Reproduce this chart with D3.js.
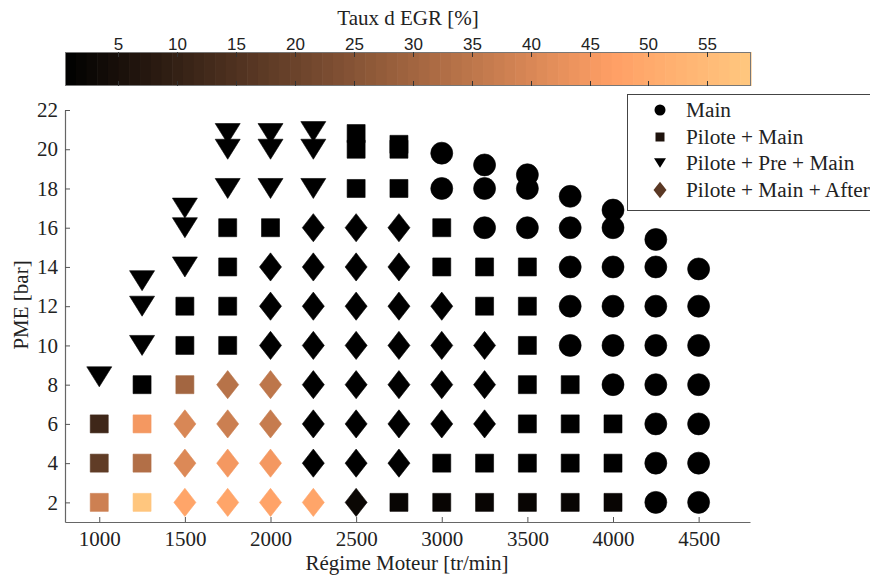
<!DOCTYPE html>
<html>
<head>
<meta charset="utf-8">
<script src="https://cdn.jsdelivr.net/npm/d3@7"></script>
<style>
  html, body { margin: 0; padding: 0; background: #fff; }
  svg { display: block; }
  .serif { font-family: "Liberation Serif", "Times New Roman", "DejaVu Serif", serif; }
  .narrow { font-family: "Liberation Sans Narrow", "Liberation Sans", Arial, sans-serif; }
</style>
</head>
<body>
<svg id="chart" width="870" height="577"></svg>
<script>
// Operating points: [engine speed (tr/min), PME (bar), EGR rate (%)]
const mainPoints = [
  [3000, 18, 0.5], [3000, 19.8, 0.5],
  [3250, 16, 0.5], [3250, 18, 0.5], [3250, 19.2, 0.5],
  [3500, 16, 0.5], [3500, 18, 0.5], [3500, 18.7, 0.5],
  [3750, 10, 0.5], [3750, 12, 0.5], [3750, 14, 0.5], [3750, 16, 0.5], [3750, 17.6, 0.5],
  [4000, 8, 0.5], [4000, 10, 0.5], [4000, 12, 0.5], [4000, 14, 0.5], [4000, 16, 0.5], [4000, 16.9, 0.5],
  [4250, 2, 0.5], [4250, 4, 0.5], [4250, 6, 0.5], [4250, 8, 0.5], [4250, 10, 0.5], [4250, 12, 0.5], [4250, 14, 0.5], [4250, 15.4, 0.5],
  [4500, 2, 0.5], [4500, 4, 0.5], [4500, 6, 0.5], [4500, 8, 0.5], [4500, 10, 0.5], [4500, 12, 0.5], [4500, 13.9, 0.5]
];

const pilotMainPoints = [
  [1000, 2, 38], [1000, 4, 18], [1000, 6, 12],
  [1250, 2, 58.4], [1250, 4, 33], [1250, 6, 45], [1250, 8, 0.5],
  [1500, 8, 30.3], [1500, 10, 0.5], [1500, 12, 0.5],
  [1750, 10, 0.5], [1750, 12, 0.5], [1750, 14, 0.5], [1750, 16, 0.5],
  [2000, 16, 0.5],
  [2500, 18, 0.5], [2500, 20, 0.5], [2500, 20.8, 0.5],
  [2750, 2, 2], [2750, 18, 0.5], [2750, 20, 0.5], [2750, 20.25, 0.5],
  [3000, 2, 2], [3000, 4, 0.5], [3000, 14, 0.5], [3000, 16, 0.5],
  [3250, 2, 2], [3250, 4, 0.5], [3250, 12, 0.5], [3250, 14, 0.5],
  [3500, 2, 2], [3500, 4, 0.5], [3500, 6, 0.5], [3500, 8, 0.5], [3500, 10, 0.5], [3500, 12, 0.5], [3500, 14, 0.5],
  [3750, 2, 2], [3750, 4, 0.5], [3750, 6, 0.5], [3750, 8, 0.5],
  [4000, 2, 2], [4000, 4, 0.5], [4000, 6, 0.5]
];

const pilotPreMainPoints = [
  [1000, 8.4, 0.5],
  [1250, 10, 0.5], [1250, 12, 0.5], [1250, 13.3, 0.5],
  [1500, 14, 0.5], [1500, 16, 0.5], [1500, 17.0, 0.5],
  [1750, 18, 0.5], [1750, 20, 0.5], [1750, 20.8, 0.5],
  [2000, 18, 0.5], [2000, 20, 0.5], [2000, 20.8, 0.5],
  [2250, 18, 0.5], [2250, 20, 0.5], [2250, 20.9, 0.5]
];

const pilotMainAfterPoints = [
  [1500, 2, 48.7], [1500, 4, 40.6], [1500, 6, 40],
  [1750, 2, 48.7], [1750, 4, 45], [1750, 6, 37.6], [1750, 8, 34],
  [2000, 2, 48], [2000, 4, 45], [2000, 6, 36.7], [2000, 8, 35], [2000, 10, 0.5], [2000, 12, 0.5], [2000, 14, 0.5],
  [2250, 2, 48.7], [2250, 4, 0.5], [2250, 6, 0.5], [2250, 8, 0.5], [2250, 10, 0.5], [2250, 12, 0.5], [2250, 14, 0.5], [2250, 16, 0.5],
  [2500, 2, 2.5], [2500, 4, 0.5], [2500, 6, 0.5], [2500, 8, 0.5], [2500, 10, 0.5], [2500, 12, 0.5], [2500, 14, 0.5], [2500, 16, 0.5],
  [2750, 4, 0.5], [2750, 6, 0.5], [2750, 8, 0.5], [2750, 10, 0.5], [2750, 12, 0.5], [2750, 14, 0.5], [2750, 16, 0.5],
  [3000, 6, 0.5], [3000, 8, 0.5], [3000, 10, 0.5], [3000, 12, 0.5],
  [3250, 6, 0.5], [3250, 8, 0.5], [3250, 10, 0.5]
];

const seriesNames = ["Main", "Pilote + Main", "Pilote + Pre + Main", "Pilote + Main + After"];
const legendEgr = [0.5, 6, 0.5, 17];

const xTicks = [1000, 1500, 2000, 2500, 3000, 3500, 4000, 4500];
const yTicks = [2, 4, 6, 8, 10, 12, 14, 16, 18, 20, 22];
const egrTicks = [5, 10, 15, 20, 25, 30, 35, 40, 45, 50, 55];
const egrRange = [0.5, 58.7];

const svg = d3.select("#chart");

// copper colormap
function copper(t) {
  t = Math.max(0, Math.min(1, t));
  const r = Math.min(1, 1.25 * t), g = 0.7812 * t, b = 0.4975 * t;
  return d3.rgb(r * 255, g * 255, b * 255).formatHex();
}
const egrT = d3.scaleLinear().domain(egrRange).range([0, 1]).clamp(true);
const egrColor = v => copper(egrT(v));

// ---------- scales ----------
const x = d3.scaleLinear().domain([800, 4800]).range([65, 750]);
const y = d3.scaleLinear().domain([1, 22]).range([522, 110]);

// ---------- colour bar ----------
const cb = { x0: 65, x1: 751, y0: 52, y1: 86 };
const cbScale = d3.scaleLinear().domain(egrRange).range([cb.x0, cb.x1]);
const nBands = 64;
const bandW = (cb.x1 - cb.x0) / nBands;
const cbG = svg.append("g");
cbG.selectAll("rect.band")
  .data(d3.range(nBands))
  .join("rect")
  .attr("class", "band")
  .attr("x", i => cb.x0 + i * bandW)
  .attr("y", cb.y0)
  .attr("width", bandW + 0.6)
  .attr("height", cb.y1 - cb.y0)
  .attr("fill", i => copper((i + 0.5) / nBands));
cbG.append("rect")
  .attr("x", cb.x0 + 0.5).attr("y", cb.y0 + 0.5)
  .attr("width", cb.x1 - cb.x0 - 1).attr("height", cb.y1 - cb.y0 - 1)
  .attr("fill", "none").attr("stroke", "#777").attr("stroke-width", 1);
egrTicks.forEach(v => {
  const px = Math.round(cbScale(v)) + 0.5;
  cbG.append("line").attr("x1", px).attr("x2", px).attr("y1", cb.y0).attr("y2", cb.y0 + 5)
    .attr("stroke", "#333").attr("stroke-width", 1);
  cbG.append("line").attr("x1", px).attr("x2", px).attr("y1", cb.y1 - 5).attr("y2", cb.y1)
    .attr("stroke", "#333").attr("stroke-width", 1);
  cbG.append("text")
    .attr("class", "narrow")
    .attr("x", px).attr("y", 50)
    .attr("text-anchor", "middle")
    .attr("font-size", 17)
    .attr("fill", "#222")
    .text(v);
});
svg.append("text")
  .attr("class", "serif")
  .attr("x", 408).attr("y", 25)
  .attr("text-anchor", "middle")
  .attr("font-size", 21).attr("fill", "#222")
  .text("Taux d EGR [%]");

// ---------- axes ----------
const xAxis = svg.append("g")
  .attr("transform", "translate(0,522)")
  .call(d3.axisBottom(x).tickValues(xTicks).tickFormat(d3.format("d"))
    .tickSizeInner(-5).tickSizeOuter(0).tickPadding(9));
const yAxis = svg.append("g")
  .attr("transform", "translate(65,0)")
  .call(d3.axisLeft(y).tickValues(yTicks).tickFormat(d3.format("d"))
    .tickSizeInner(-5).tickSizeOuter(0).tickPadding(7));
[xAxis, yAxis].forEach(g => {
  g.attr("font-family", null).attr("font-size", null);
  g.select(".domain").attr("stroke", "#666").attr("stroke-width", 1.2);
  g.selectAll(".tick line").attr("stroke", "#555");
  g.selectAll(".tick text").attr("class", "serif").attr("font-size", 21).attr("fill", "#222");
});

svg.append("text")
  .attr("class", "serif")
  .attr("x", 407).attr("y", 570)
  .attr("text-anchor", "middle")
  .attr("font-size", 21).attr("fill", "#222")
  .text("Régime Moteur [tr/min]");
svg.append("text")
  .attr("class", "serif")
  .attr("transform", "translate(28,305) rotate(-90)")
  .attr("text-anchor", "middle")
  .attr("font-size", 21).attr("fill", "#222")
  .text("PME [bar]");

// ---------- marker shapes ----------
const shapes = {
  circle: s => { const r = s / 2; return `M${r},0A${r},${r} 0 1,1 ${-r},0A${r},${r} 0 1,1 ${r},0Z`; },
  square: s => { const h = s / 2; return `M${-h},${-h}H${h}V${h}H${-h}Z`; },
  triangle: s => { const w = s * 0.5, h = s * 0.4; return `M${-w},${-h}H${w}L0,${h}Z`; },
  diamond: s => { const w = s * 0.5, h = s * 0.64; return `M0,${-h}L${w},0L0,${h}L${-w},0Z`; }
};

const series = [
  { data: mainPoints, shape: "circle", size: 22 },
  { data: pilotMainPoints, shape: "square", size: 18 },
  { data: pilotPreMainPoints, shape: "triangle", size: 25 },
  { data: pilotMainAfterPoints, shape: "diamond", size: 22 }
];

const plot = svg.append("g");
series.forEach(s => {
  plot.append("g").selectAll("path")
    .data(s.data)
    .join("path")
    .attr("transform", d => `translate(${x(d[0])},${y(d[1])})`)
    .attr("d", shapes[s.shape](s.size))
    .attr("fill", d => egrColor(d[2]))
    .attr("stroke", d => egrColor(d[2]))
    .attr("stroke-width", 0.6);
});

// ---------- legend ----------
const legend = svg.append("g");
legend.append("rect")
  .attr("x", 627.5).attr("y", 94.5)
  .attr("width", 270).attr("height", 116)
  .attr("fill", "#fff").attr("stroke", "#444").attr("stroke-width", 1);
const legendSizes = [11, 9, 12, 13];
const legendRowY = [110, 137, 163, 190];
seriesNames.forEach((name, i) => {
  legend.append("path")
    .attr("transform", `translate(660,${legendRowY[i]})`)
    .attr("d", shapes[series[i].shape](legendSizes[i]))
    .attr("fill", egrColor(legendEgr[i]));
  legend.append("text")
    .attr("class", "serif")
    .attr("x", 686).attr("y", legendRowY[i])
    .attr("dy", "0.35em")
    .attr("font-size", 21.3).attr("fill", "#222")
    .text(name);
});
</script>
</body>
</html>
